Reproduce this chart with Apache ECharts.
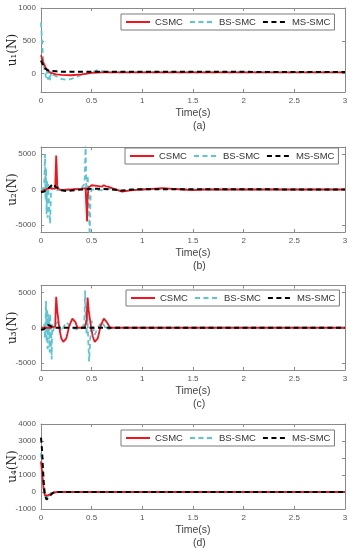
<!DOCTYPE html>
<html><head><meta charset="utf-8">
<script src="https://cdn.jsdelivr.net/npm/echarts@6/dist/echarts.min.js"></script>
<style>html,body{margin:0;padding:0;background:#fff}#c{width:350px;height:550px}</style>
</head><body><div id="c"></div>
<script>
// ---- data ----
var xTicks = [0, 0.5, 1, 1.5, 2, 2.5, 3];
var yTicks1 = [0, 500, 1000];
var yTicks2 = [-5000, 0, 5000];
var yTicks3 = [-5000, 0, 5000];
var yTicks4 = [-1000, 0, 1000, 2000, 3000, 4000];
var panelLabels = ['(a)', '(b)', '(c)', '(d)'];
var yNames = ['u\u2081(N)', 'u\u2082(N)', 'u\u2083(N)', 'u\u2084(N)'];
var seriesNames = ['CSMC', 'BS-SMC', 'MS-SMC'];

// panel (a) u1
var t1CS = [0, 0.02, 0.05, 0.08, 0.1, 0.15, 0.2, 0.3, 0.4, 0.5, 0.6, 1, 3];
var u1CS = [280, 180, 80, 30, 10, -10, -20, -25, -10, 10, 20, 20, 20];
var t1BS = [0, 0.01, 0.02, 0.03, 0.04, 0.05, 0.06, 0.07, 0.08, 0.09, 0.1, 0.12, 0.15, 0.2, 0.25, 0.3, 0.35, 0.4, 0.45, 0.5, 0.55, 0.6, 0.65, 0.7, 1, 3];
var u1BS = [780, 500, 250, 100, 20, -60, 40, -90, 50, -100, 30, -20, -40, -80, -95, -80, -50, -20, 0, 20, 50, 40, 20, 20, 20, 20];
var t1MS = [0, 0.02, 0.04, 0.06, 0.08, 0.1, 0.15, 0.2, 3];
var u1MS = [200, 130, 80, 55, 45, 40, 35, 30, 25];

// panel (b) u2
var t2CS = [0, 0.03, 0.06, 0.1, 0.14, 0.15, 0.155, 0.16, 0.17, 0.2, 0.3, 0.4, 0.44, 0.45, 0.455, 0.46, 0.47, 0.5, 0.55, 0.6, 0.62, 0.64, 0.66, 0.7, 0.8, 0.9, 1.0, 1.1, 1.2, 1.3, 1.4, 1.5, 1.6, 3];
var u2CS = [-300, -100, 100, 200, 100, 4800, 3000, 600, 100, -100, 0, 100, 200, 0, -4500, -1000, 300, 600, 500, 400, 600, 450, 400, 200, -300, -100, 0, 100, 200, 100, 0, -100, 0, 0];
var t2BS = [0, 0.02, 0.03, 0.04, 0.045, 0.05, 0.055, 0.06, 0.065, 0.07, 0.08, 0.09, 0.1, 0.11, 0.12, 0.15, 0.2, 0.3, 0.4, 0.43, 0.44, 0.45, 0.46, 0.47, 0.48, 0.49, 0.5, 0.6, 0.7, 0.8, 1.0, 1.2, 1.5, 3];
var u2BS = [0, 200, -500, 5000, -1500, 3000, -3500, 1200, -4000, 800, 1000, -4800, 300, 0, -200, -100, 0, 0, 200, 800, 6500, -2000, 2000, -500, -6500, -500, 0, -100, 200, -200, 0, 100, 0, 0];
var t2MS = [0, 0.03, 0.06, 0.09, 0.12, 0.15, 0.2, 0.25, 0.3, 0.4, 0.5, 0.6, 0.7, 0.8, 0.9, 1.0, 1.2, 3];
var u2MS = [-400, -300, 0, 400, 800, 300, -100, -200, -150, 0, 100, 100, 0, -150, 0, 50, 50, 0];

// panel (c) u3
var t3CS = [0, 0.1, 0.14, 0.15, 0.16, 0.18, 0.2, 0.22, 0.25, 0.28, 0.31, 0.34, 0.36, 0.43, 0.45, 0.46, 0.47, 0.49, 0.51, 0.53, 0.56, 0.59, 0.62, 0.65, 0.68, 0.7, 3];
var u3CS = [0, 0, 200, 4400, 2500, 0, -1500, -2000, -1500, 300, 1300, 800, 0, 0, 1000, 4300, 2500, 500, -1200, -2000, -1500, 300, 1300, 800, 0, 0, 0];
var t3BS = [0, 0.02, 0.03, 0.04, 0.05, 0.055, 0.06, 0.065, 0.07, 0.075, 0.08, 0.085, 0.09, 0.1, 0.105, 0.11, 0.12, 0.13, 0.15, 0.17, 0.2, 0.25, 0.3, 0.35, 0.4, 0.42, 0.43, 0.435, 0.44, 0.45, 0.455, 0.46, 0.475, 0.49, 0.5, 0.53, 0.56, 0.6, 0.65, 0.7, 0.75, 3];
var u3BS = [0, -300, 500, -1500, 3800, -2000, 2600, -3000, 2000, -1000, 1500, -3500, 2000, -1000, -4500, 500, -500, 300, 600, 900, -500, 800, 0, -200, 0, 300, 1500, 5300, 2000, -1000, 3000, 500, -4800, -500, 1000, -1000, 0, 800, -300, 0, 0, 0];
var t3MS = [0, 0.03, 0.05, 0.07, 0.1, 0.13, 0.2, 3];
var u3MS = [-300, -200, 100, 400, 200, 0, 0, 0];

// panel (d) u4
var t4CS = [0, 0.01, 0.02, 0.03, 0.04, 0.05, 0.07, 0.1, 0.13, 0.16, 0.2, 3];
var u4CS = [1800, 1200, 500, 0, -200, -250, -200, -100, -30, 0, 0, 0];
var t4BS = [0, 0.01, 0.02, 0.03, 0.04, 0.06, 0.08, 0.1, 0.15, 3];
var u4BS = [2300, 1500, 600, 0, -250, -300, -150, -50, 0, 0];
var t4MS = [0, 0.005, 0.01, 0.02, 0.03, 0.04, 0.055, 0.07, 0.09, 0.12, 0.15, 0.2, 3];
var u4MS = [3200, 3100, 2500, 1300, 300, -200, -450, -350, -200, -50, 0, 0, 0];

// ---- build ----
function zip(t, u) { return t.map(function (v, i) { return [v, u[i]]; }); }
var panels = [
  { cs: zip(t1CS, u1CS), bs: zip(t1BS, u1BS), ms: zip(t1MS, u1MS), min: -280, max: 1000, ticks: yTicks1 },
  { cs: zip(t2CS, u2CS), bs: zip(t2BS, u2BS), ms: zip(t2MS, u2MS), min: -6000, max: 6000, ticks: yTicks2 },
  { cs: zip(t3CS, u3CS), bs: zip(t3BS, u3BS), ms: zip(t3MS, u3MS), min: -6000, max: 6000, ticks: yTicks3 },
  { cs: zip(t4CS, u4CS), bs: zip(t4BS, u4BS), ms: zip(t4MS, u4MS), min: -1000, max: 4000, ticks: yTicks4 }
];
var layout = [
  { top: 8, h: 84, lgLeft: 121, lgTop: 14 },
  { top: 147, h: 85, lgLeft: 125, lgTop: 148 },
  { top: 285.5, h: 84.5, lgLeft: 126, lgTop: 290 },
  { top: 424, h: 85, lgLeft: 121, lgTop: 430 }
];
var axisCol = '#8a8a8a', labCol = '#555';
var RED = '#f0141e', CYAN = '#5cc6d0', BLACK = '#000';

var grid = [], xAxis = [], yAxis = [], series = [], legend = [], graphic = [];
panels.forEach(function (p, i) {
  var L = layout[i];
  grid.push({ left: 41, width: 304, top: L.top, height: L.h, show: false, containLabel: false, outerBoundsMode: 'none' });
  var xa = 2 * i, ya = 2 * i;
  xAxis.push({
    type: 'value', gridIndex: i, min: 0, max: 3, interval: 0.5,
    axisLine: { show: true, onZero: false, lineStyle: { color: axisCol, width: 1 } },
    axisTick: { show: true, inside: true, length: 3, lineStyle: { color: axisCol } },
    axisLabel: { color: labCol, fontSize: 8, fontFamily: 'Liberation Sans', margin: 5,
      formatter: function (v) { return String(v); } },
    splitLine: { show: false },
    name: 'Time(s)', nameLocation: 'middle', nameGap: 16, nameMoveOverlap: false,
    nameTextStyle: { color: '#444', fontSize: 10.5, fontFamily: 'Liberation Sans' }
  });
  xAxis.push({
    type: 'value', gridIndex: i, min: 0, max: 3, interval: 0.5, position: 'top',
    axisLine: { show: true, onZero: false, lineStyle: { color: axisCol, width: 1 } },
    axisTick: { show: true, inside: true, length: 3, lineStyle: { color: axisCol } },
    axisLabel: { show: false }, splitLine: { show: false }
  });
  yAxis.push({
    type: 'value', gridIndex: i, min: p.min, max: p.max,
    axisLine: { show: true, onZero: false, lineStyle: { color: axisCol, width: 1 } },
    axisTick: { show: true, inside: true, length: 3, lineStyle: { color: axisCol }, customValues: p.ticks },
    axisLabel: { color: labCol, fontSize: 8, fontFamily: 'Liberation Sans', margin: 5, customValues: p.ticks,
      formatter: function (v) { return String(v); } },
    splitLine: { show: false },
    name: yNames[i], nameLocation: 'middle', nameGap: 22, nameMoveOverlap: false,
    nameTextStyle: { color: '#222', fontSize: 12, fontFamily: 'DejaVu Serif' }
  });
  yAxis.push({
    type: 'value', gridIndex: i, min: p.min, max: p.max, position: 'right',
    axisLine: { show: true, onZero: false, lineStyle: { color: axisCol, width: 1 } },
    axisTick: { show: true, inside: true, length: 3, lineStyle: { color: axisCol }, customValues: p.ticks },
    axisLabel: { show: false }, splitLine: { show: false }
  });
  series.push({
    name: 'BS-SMC', type: 'line', xAxisIndex: xa, yAxisIndex: ya, data: p.bs, symbol: 'none', z: 2,
    lineStyle: { color: CYAN, width: 1.8, type: [5, 3.5] }, itemStyle: { color: CYAN }
  });
  series.push({
    name: 'CSMC', type: 'line', xAxisIndex: xa, yAxisIndex: ya, data: p.cs, symbol: 'none', z: 3,
    lineStyle: { color: RED, width: 1.8 }, itemStyle: { color: RED }
  });
  series.push({
    name: 'MS-SMC', type: 'line', xAxisIndex: xa, yAxisIndex: ya, data: p.ms, symbol: 'none', z: 4,
    lineStyle: { color: BLACK, width: 2, type: [5, 3.5] }, itemStyle: { color: BLACK }
  });
  legend.push({
    data: seriesNames, left: L.lgLeft, top: L.lgTop, orient: 'horizontal', width: 260,
    itemWidth: 24, itemHeight: 10, itemGap: 6, padding: [3, 4],
    borderColor: '#7a7a7a', borderWidth: 1, backgroundColor: '#fff',
    itemStyle: { opacity: 0 },
    textStyle: { fontSize: 9.5, color: '#333', fontFamily: 'Liberation Sans' },
    selectedMode: false
  });
  graphic.push({
    type: 'text', left: 193, top: L.top + L.h + 29, style: {
      text: panelLabels[i], fill: '#444', fontSize: 10.5, fontFamily: 'Liberation Sans', textAlign: 'center'
    }
  });
});

var chart = echarts.init(document.getElementById('c'), null, { renderer: 'canvas' });
chart.setOption({
  animation: false, backgroundColor: '#fff',
  grid: grid, xAxis: xAxis, yAxis: yAxis, series: series, legend: legend, graphic: graphic
});
</script></body></html>
